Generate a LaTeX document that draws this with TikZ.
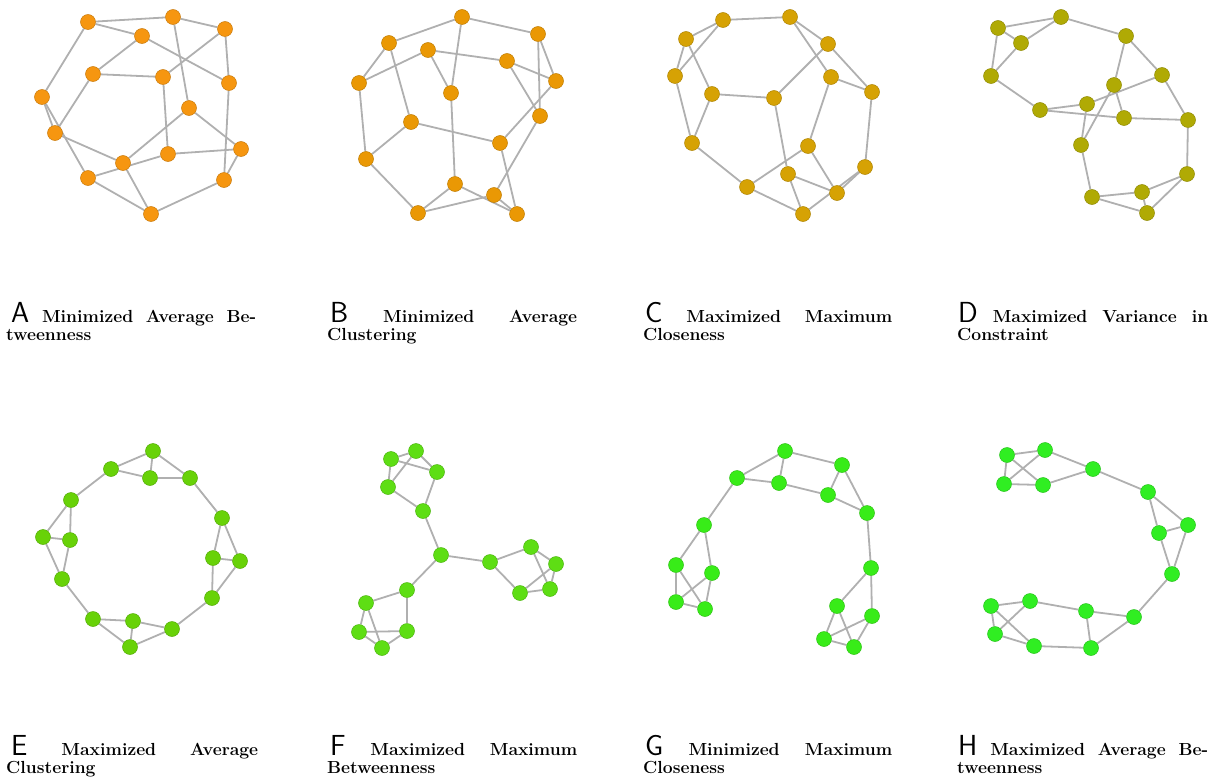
\documentclass[tikz,border=0pt]{standalone}
\usepackage{tikz}
\usetikzlibrary{backgrounds}
\usepackage{xcolor}
\definecolor{edgeGray}{RGB}{176,176,176}
\definecolor{orangeA}{RGB}{246,150,16}
\definecolor{orangeB}{RGB}{234,152,4}
\definecolor{goldC}{RGB}{214,162,4}
\definecolor{oliveD}{RGB}{176,170,4}
\definecolor{greenE}{RGB}{104,210,8}
\definecolor{greenF}{RGB}{94,222,20}
\definecolor{greenG}{RGB}{56,236,24}
\definecolor{greenH}{RGB}{48,238,34}
\newcommand{\capletter}[1]{{\fontsize{29}{29}\selectfont\sffamily\mdseries #1}}

\begin{document}
\begin{tikzpicture}[
    x=1pt, y=-1pt,
    vtx/.style={circle, draw=#1!82!black, fill=#1, line width=0.5pt, minimum size=15pt, inner sep=0pt},
    edge/.style={draw=edgeGray, line width=1.8pt},
    capline/.style={anchor=base west, inner sep=0pt, font=\fontsize{17.5}{19}\selectfont\bfseries}
]
\useasboundingbox (0,0) rectangle (1211,779);

% A
\foreach \n/\x/\y in {1/88/22, 2/173/17, 3/225/29, 4/142/36, 5/93/74, 6/163/77, 7/229/83, 8/42/97,
    9/189/108, 10/55/133, 11/241/149, 12/168/154, 13/123/163, 14/88/178, 15/224/180, 16/151/214}
    \node[vtx=orangeA] (a\n) at (\x,\y) {};
% B
\foreach \n/\x/\y in {1/462/17, 2/538/34, 3/389/43, 4/428/50, 5/507/61, 6/556/81, 7/359/83, 8/451/93,
    9/540/116, 10/411/122, 11/500/143, 12/366/159, 13/455/184, 14/494/195, 15/418/213, 16/517/214}
    \node[vtx=orangeB] (b\n) at (\x,\y) {};
% C
\foreach \n/\x/\y in {1/723/20, 2/790/17, 3/686/39, 4/828/44, 5/675/76, 6/831/77, 7/872/92, 8/712/94,
    9/774/98, 10/692/143, 11/808/146, 12/865/167, 13/788/174, 14/747/187, 15/837/193, 16/803/214}
    \node[vtx=goldC] (c\n) at (\x,\y) {};
% D
\foreach \n/\x/\y in {1/1061/17, 2/998/28, 3/1126/36, 4/1021/43, 5/991/76, 6/1162/75, 7/1114/85, 8/1087/104,
    9/1040/110, 10/1124/118, 11/1188/120, 12/1081/145, 13/1187/174, 14/1142/192, 15/1092/197, 16/1147/213}
    \node[vtx=oliveD] (d\n) at (\x,\y) {};
% E
\foreach \n/\x/\y in {1/153/451, 2/111/469, 3/150/478, 4/190/478, 5/71/500, 6/222/518, 7/43/537, 8/70/540,
    9/213/558, 10/240/561, 11/62/579, 12/212/598, 13/93/619, 14/133/621, 15/172/629, 16/130/647}
    \node[vtx=greenE] (e\n) at (\x,\y) {};
% F
\foreach \n/\x/\y in {1/416/451, 2/391/459, 3/437/472, 4/388/487, 5/423/511, 6/441/555, 7/531/547, 8/490/562,
    9/556/564, 10/550/589, 11/520/593, 12/407/590, 13/366/603, 14/359/632, 15/407/631, 16/382/648}
    \node[vtx=greenF] (f\n) at (\x,\y) {};
% G
\foreach \n/\x/\y in {1/785/451, 2/842/465, 3/737/478, 4/779/483, 5/828/495, 6/867/513, 7/704/525, 8/676/565,
    9/712/573, 10/871/568, 11/676/602, 12/705/609, 13/837/606, 14/872/616, 15/824/639, 16/854/647}
    \node[vtx=greenG] (g\n) at (\x,\y) {};
% H
\foreach \n/\x/\y in {1/1045/450, 2/1007/455, 3/1093/469, 4/1004/484, 5/1043/485, 6/1148/492, 7/1188/525, 8/1159/533,
    9/1172/574, 10/1030/601, 11/991/606, 12/1086/611, 13/1134/617, 14/995/634, 15/1034/646, 16/1091/648}
    \node[vtx=greenH] (h\n) at (\x,\y) {};

\begin{scope}[on background layer]
\foreach \u/\v in {1/2, 1/4, 1/8, 2/3, 2/9, 3/6, 3/7, 4/5, 4/7, 5/6, 5/10, 6/12,
    7/15, 8/10, 8/14, 9/13, 9/11, 10/13, 11/12, 11/15, 12/14, 13/16, 14/16, 15/16}
    \draw[edge] (a\u) -- (a\v);
\foreach \u/\v in {1/3, 1/2, 1/8, 2/6, 2/9, 3/7, 3/10, 4/7, 4/5, 4/8, 5/6, 5/9,
    6/11, 7/12, 8/13, 9/14, 10/11, 10/12, 11/16, 12/15, 13/15, 13/16, 14/15, 14/16}
    \draw[edge] (b\u) -- (b\v);
\foreach \u/\v in {1/2, 1/3, 1/5, 2/4, 2/6, 3/5, 3/8, 4/7, 4/9, 5/10, 6/7, 6/11,
    7/12, 8/9, 8/10, 9/13, 10/14, 11/14, 11/15, 12/15, 12/16, 13/15, 13/16, 14/16}
    \draw[edge] (c\u) -- (c\v);
\foreach \u/\v in {1/2, 1/4, 1/3, 2/4, 2/5, 4/5, 5/9, 3/7, 3/6, 6/8, 6/11, 7/10,
    7/12, 8/9, 8/12, 9/10, 10/11, 11/13, 12/15, 13/14, 13/16, 14/15, 14/16, 15/16}
    \draw[edge] (d\u) -- (d\v);
\foreach \u/\v in {1/2, 1/3, 1/4, 2/3, 3/4, 2/5, 4/6, 5/7, 5/8, 7/8, 7/11, 8/11,
    11/13, 6/9, 6/10, 9/10, 9/12, 10/12, 12/15, 13/14, 13/16, 14/16, 14/15, 15/16}
    \draw[edge] (e\u) -- (e\v);
\foreach \u/\v in {1/2, 1/4, 2/3, 2/4, 1/3, 3/5, 4/5, 5/6, 6/8, 6/12, 8/7, 8/11,
    7/9, 7/10, 9/11, 9/10, 10/11, 12/13, 12/15, 13/14, 13/16, 14/15, 14/16, 15/16}
    \draw[edge] (f\u) -- (f\v);
\foreach \u/\v in {1/3, 1/4, 1/2, 3/4, 4/5, 2/5, 2/6, 5/6, 3/7, 6/10, 7/8, 7/9,
    8/11, 8/12, 9/11, 9/12, 11/12, 10/13, 10/14, 13/15, 13/16, 14/15, 14/16, 15/16}
    \draw[edge] (g\u) -- (g\v);
\foreach \u/\v in {1/2, 1/3, 1/4, 2/4, 2/5, 4/5, 5/3, 3/6, 6/7, 6/8, 7/8, 7/9,
    8/9, 9/13, 13/12, 13/16, 12/10, 12/16, 10/11, 10/14, 11/14, 11/15, 14/15, 15/16}
    \draw[edge] (h\u) -- (h\v);
\end{scope}

% captions
\node[capline] (capA) at (11,322) {\makebox[245pt][s]{\capletter{A} Minimized Average Be-}};
\node[capline] (capA2) at (6,340) {tweenness};
\node[capline] (capB) at (330,322) {\makebox[247pt][s]{\capletter{B} Minimized Average}};
\node[capline] (capB2) at (327,340) {Clustering};
\node[capline] (capC) at (645,322) {\makebox[247pt][s]{\capletter{C} Maximized Maximum}};
\node[capline] (capC2) at (643,340) {Closeness};
\node[capline] (capD) at (958,322) {\makebox[250pt][s]{\capletter{D} Maximized Variance in}};
\node[capline] (capD2) at (957,340) {Constraint};
\node[capline] (capE) at (11,755) {\makebox[247pt][s]{\capletter{E} Maximized Average}};
\node[capline] (capE2) at (6,773) {Clustering};
\node[capline] (capF) at (330,755) {\makebox[247pt][s]{\capletter{F} Maximized Maximum}};
\node[capline] (capF2) at (327,773) {Betweenness};
\node[capline] (capG) at (645,755) {\makebox[247pt][s]{\capletter{G} Minimized Maximum}};
\node[capline] (capG2) at (643,773) {Closeness};
\node[capline] (capH) at (958,755) {\makebox[250pt][s]{\capletter{H} Maximized Average Be-}};
\node[capline] (capH2) at (957,773) {tweenness};
\end{tikzpicture}
\end{document}
